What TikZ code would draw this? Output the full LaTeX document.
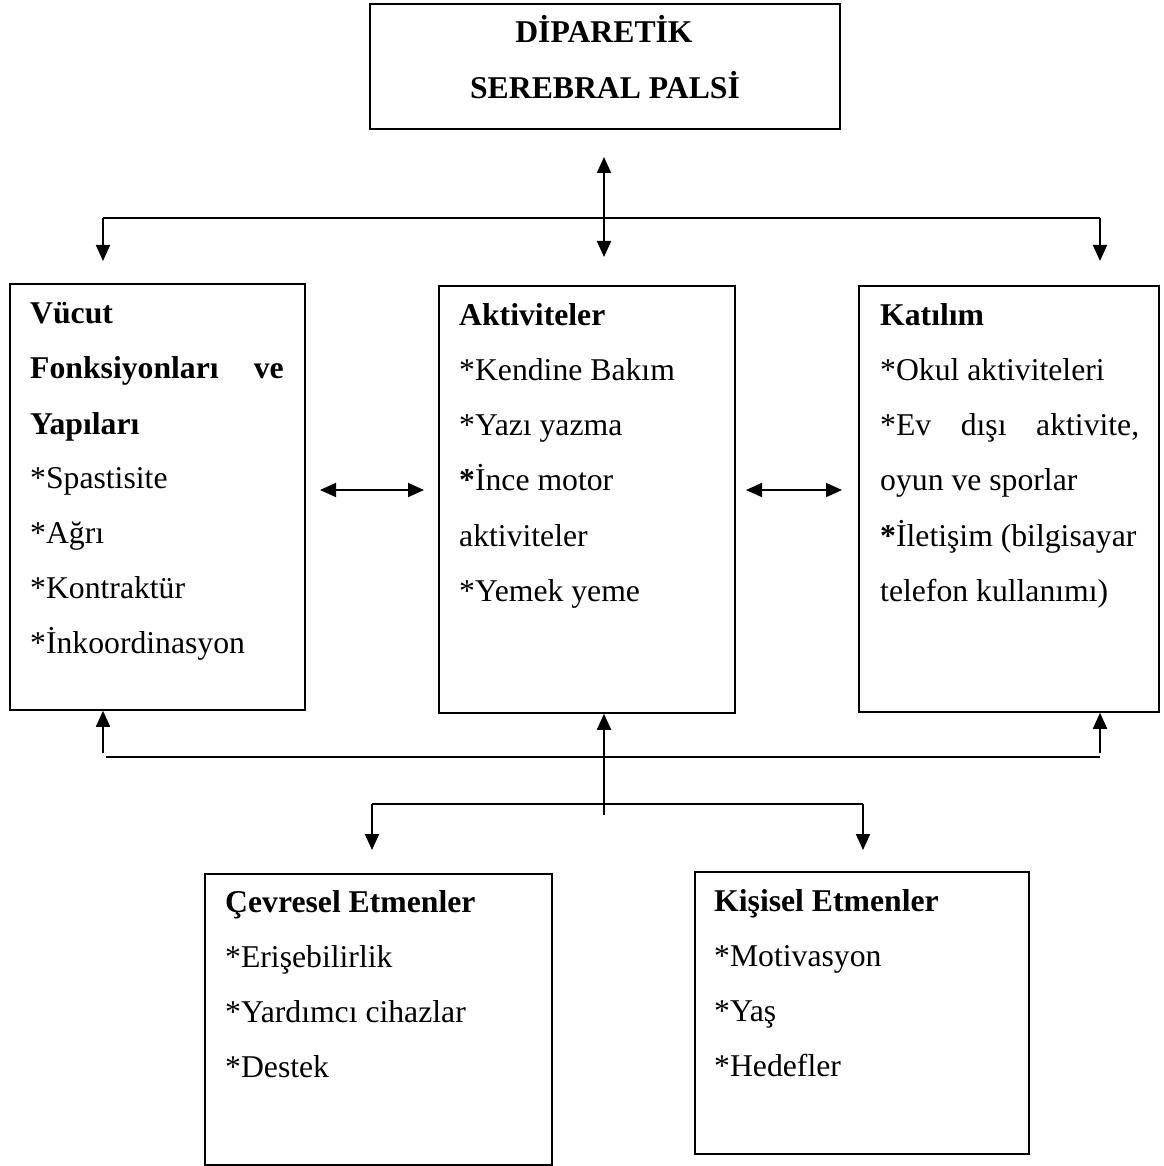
\documentclass[tikz,border=0pt]{standalone}
\usepackage{fontspec}
\setmainfont{Liberation Serif}
\usetikzlibrary{arrows.meta}
\begin{document}
\begin{tikzpicture}[x=1pt,y=-1pt,
  box/.style={draw,line width=1.8pt,inner sep=0pt,anchor=north west},
  txt/.style={anchor=base west,inner sep=0pt,font=\fontsize{31.7}{37}\selectfont},
  ttl/.style={txt,font=\fontsize{31.7}{37}\selectfont\bfseries},
  conn/.style={line width=1.8pt},
  arr/.style={conn,-{Triangle[length=16pt,width=14pt]}},
  darr/.style={conn,{Triangle[length=16pt,width=14pt]}-{Triangle[length=16pt,width=14pt]}}]
\useasboundingbox (0,0) rectangle (1163,1166);
% boxes
\node[box,minimum width=470pt,minimum height=125pt] (top) at (369,3) {};
\node[box,minimum width=295pt,minimum height=426pt] (vb) at (9,283) {};
\node[box,minimum width=296pt,minimum height=427pt] (ak) at (438,285) {};
\node[box,minimum width=300pt,minimum height=426pt] (ka) at (858,285) {};
\node[box,minimum width=347pt,minimum height=291pt] (ce) at (204,873) {};
\node[box,minimum width=334pt,minimum height=282pt] (ki) at (694,871) {};
% top text
\node[ttl,anchor=base] (t1) at (604,43) {DİPARETİK};
\node[ttl,anchor=base] (t2) at (605,99) {SEREBRAL PALSİ};
% left box
\node[ttl] (v1) at (30,323) {Vücut};
\node[ttl] (v2) at (30,378) {Fonksiyonları};
\node[ttl,anchor=base east] (v2b) at (284,378) {ve};
\node[ttl] (v3) at (30,434) {Yapıları};
\node[txt] (v4) at (30,488) {*Spastisite};
\node[txt] (v5) at (30,543) {*Ağrı};
\node[txt] (v6) at (30,598) {*Kontraktür};
\node[txt] (v7) at (30,653) {*İnkoordinasyon};
% middle box
\node[ttl] (a1) at (459,325) {Aktiviteler};
\node[txt] (a2) at (459,380.3) {*Kendine Bakım};
\node[txt] (a3) at (459,435.6) {*Yazı yazma};
\node[txt] (a4) at (459,490.9) {\textbf{*}İnce motor};
\node[txt] (a5) at (459,546.2) {aktiviteler};
\node[txt] (a6) at (459,601.5) {*Yemek yeme};
% right box
\node[ttl] (k1) at (880,325) {Katılım};
\node[txt] (k2) at (880,380.3) {*Okul aktiviteleri};
\node[txt] (k3) at (880,435.6) {\makebox[259pt][s]{*Ev dışı aktivite,}};
\node[txt] (k4) at (880,490.9) {oyun ve sporlar};
\node[txt] (k5) at (880,546.2) {\textbf{*}İletişim (bilgisayar};
\node[txt] (k6) at (880,601.5) {telefon kullanımı)};
% bottom left
\node[ttl] (c1) at (225,912) {Çevresel Etmenler};
\node[txt] (c2) at (225,967.3) {*Erişebilirlik};
\node[txt] (c3) at (225,1022.6) {*Yardımcı cihazlar};
\node[txt] (c4) at (225,1077.9) {*Destek};
% bottom right
\node[ttl] (p1) at (714,911) {Kişisel Etmenler};
\node[txt] (p2) at (714,966.3) {*Motivasyon};
\node[txt] (p3) at (714,1021.6) {*Yaş};
\node[txt] (p4) at (714,1076.9) {*Hedefler};
% coordinates
\coordinate (tA) at (604,157);
\coordinate (tB) at (604,257);
\coordinate (hL) at (103,218);
\coordinate (hR) at (1100,218);
\coordinate (dL) at (103,261);
\coordinate (dR) at (1100,261);
\coordinate (lm1) at (320,490);
\coordinate (lm2) at (424,490);
\coordinate (mr1) at (746,490);
\coordinate (mr2) at (842,490);
\coordinate (uL) at (103,753);
\coordinate (uR) at (1100,753);
\coordinate (bL) at (106,757);
\coordinate (bR) at (1100,757);
\coordinate (uM) at (604,815);
\coordinate (sL) at (372,804);
\coordinate (sR) at (863,804);
\coordinate (eL) at (372,850);
\coordinate (eR) at (863,850);
% top connectors
\draw[darr] (tA) -- (tB);
\draw[conn] (hL) -- (hR);
\draw[arr] (hL) -- (dL);
\draw[arr] (hR) -- (dR);
% side arrows
\draw[darr] (lm1) -- (lm2);
\draw[darr] (mr1) -- (mr2);
% bottom connectors
\draw[arr] (uL) -- (uL |- vb.south);
\draw[arr] (uR) -- (uR |- ka.south);
\draw[conn] (bL) -- (bR);
\draw[arr] (uM) -- (uM |- ak.south);
\draw[conn] (sL) -- (sR);
\draw[arr] (sL) -- (eL);
\draw[arr] (sR) -- (eR);
\end{tikzpicture}
\end{document}
